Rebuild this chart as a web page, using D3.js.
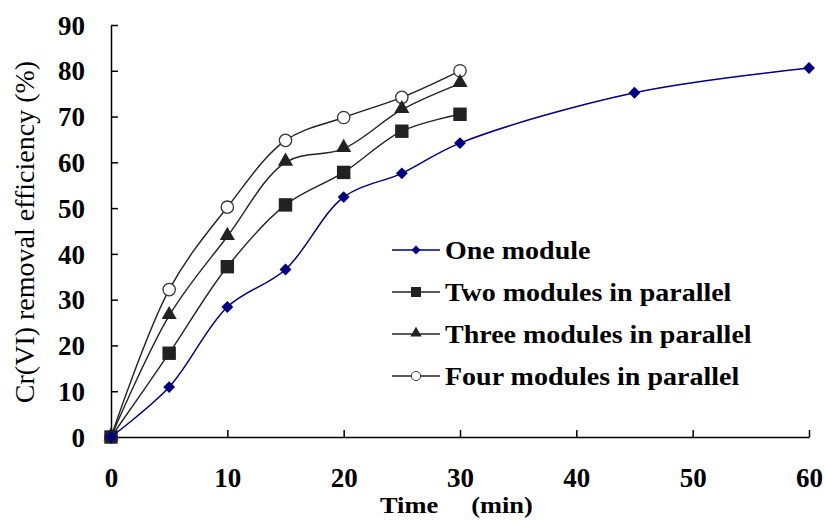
<!DOCTYPE html>
<html>
<head>
<meta charset="utf-8">
<script src="https://cdn.jsdelivr.net/npm/d3@7"></script>
<style>
  body { margin: 0; background: #fff; }
  svg { display: block; }
  .tick text { font-family: "Liberation Serif", "Times New Roman", serif; font-weight: bold; fill: #000; }
  .domain, .tick line { stroke: #000; stroke-width: 1.5; }
</style>
</head>
<body>
<svg id="chart" width="825" height="520"></svg>
<script>
(function() {

  // Time points (min).
  var timesShort = [0, 5, 10, 15, 20, 25, 30];
  var timesLong = [0, 5, 10, 15, 20, 25, 30, 45, 60];

  // Removal efficiency (%).
  var oneModule = [0, 10.9, 28.4, 36.6, 52.4, 57.6, 64.2, 75.2, 80.6];
  var twoModules = [0, 18.3, 37.2, 50.7, 57.8, 66.8, 70.5];
  var threeModules = [0, 26.5, 43.8, 60.0, 63.0, 71.5, 77.2];
  var fourModules = [0, 32.2, 50.2, 64.8, 69.8, 74.2, 80.0];

  var seriesNames = ["One module", "Two modules in parallel",
                     "Three modules in parallel", "Four modules in parallel"];

  // Axis ticks.
  var xTicks = [0, 10, 20, 30, 40, 50, 60];
  var yTicks = [0, 10, 20, 30, 40, 50, 60, 70, 80, 90];

  var series = [
    { name: seriesNames[0], t: timesLong, v: oneModule, color: "#000080", marker: "diamond" },
    { name: seriesNames[1], t: timesShort, v: twoModules, color: "#222", marker: "square" },
    { name: seriesNames[2], t: timesShort, v: threeModules, color: "#222", marker: "triangle" },
    { name: seriesNames[3], t: timesShort, v: fourModules, color: "#222", marker: "circle" }
  ];

  var svg = d3.select("#chart");

  var x = d3.scaleLinear().domain([0, 60]).range([111, 809]);
  var y = d3.scaleLinear().domain([0, 90]).range([437, 25]);

  // Axes, ticks pointing inward.
  var xAxis = svg.append("g")
    .attr("transform", "translate(0," + y(0) + ")")
    .call(d3.axisBottom(x).tickValues(xTicks).tickSizeInner(-7).tickSizeOuter(0).tickPadding(31));
  xAxis.selectAll("text").attr("font-size", 27);

  var yAxis = svg.append("g")
    .attr("transform", "translate(" + x(0) + ",0)")
    .call(d3.axisLeft(y).tickValues(yTicks).tickSizeInner(-7).tickSizeOuter(0).tickPadding(26));
  yAxis.selectAll("text").attr("font-size", 27).attr("dy", "0.34em");

  // Axis titles.
  svg.append("text")
    .attr("transform", "translate(34,232) rotate(-90)")
    .attr("text-anchor", "middle")
    .attr("font-family", "Liberation Serif, serif")
    .attr("font-size", 28)
    .text("Cr(VI)  removal efficiency (%)");

  svg.append("text")
    .attr("transform", "translate(380,513) scale(1.1,1)")
    .attr("font-family", "Liberation Serif, serif")
    .attr("font-weight", "bold")
    .attr("font-size", 24)
    .style("white-space", "pre")
    .text("Time     (min)");

  var line = d3.line().curve(d3.curveCatmullRom.alpha(0.5));

  function markerPath(kind) {
    if (kind === "diamond") return d3.symbol(d3.symbolDiamond2, 90)();
    if (kind === "square") return d3.symbol(d3.symbolSquare, 180)();
    if (kind === "triangle") return d3.symbol(d3.symbolTriangle, 100)();
    return d3.symbol(d3.symbolCircle, 120)();
  }

  function drawMarker(g, kind, color) {
    var p = g.append("path").attr("d", markerPath(kind));
    if (kind === "circle") {
      p.attr("fill", "#fff").attr("stroke", "#333").attr("stroke-width", 1.3);
    } else {
      p.attr("fill", color);
      if (kind === "triangle") p.attr("transform", "translate(0,-1)");
    }
  }

  // Draw series back to front.
  series.slice().reverse().forEach(function(s) {
    var pts = s.t.map(function(t, i) { return [x(t), y(s.v[i])]; });
    svg.append("path")
      .attr("d", line(pts))
      .attr("fill", "none")
      .attr("stroke", s.color)
      .attr("stroke-width", s.marker === "diamond" ? 1.5 : 1.4);
    svg.selectAll(null)
      .data(pts)
      .enter()
      .append("g")
      .attr("transform", function(d) { return "translate(" + d[0] + "," + d[1] + ")"; })
      .each(function() { drawMarker(d3.select(this), s.marker, s.color); });
  });

  // Legend.
  var legend = svg.append("g").attr("transform", "translate(392,250)");
  series.forEach(function(s, i) {
    var row = legend.append("g").attr("transform", "translate(0," + (i * 42) + ")");
    row.append("line")
      .attr("x1", 0).attr("x2", 48)
      .attr("stroke", s.color).attr("stroke-width", 1.4);
    var m = row.append("g").attr("transform", "translate(24,0) scale(0.75)");
    drawMarker(m, s.marker, s.color);
    row.append("text")
      .attr("transform", "translate(53,0) scale(1.12,1)")
      .attr("dy", "0.35em")
      .attr("font-family", "Liberation Serif, serif")
      .attr("font-weight", "bold")
      .attr("font-size", 25)
      .text(s.name);
  });

})();
</script>
</body>
</html>
